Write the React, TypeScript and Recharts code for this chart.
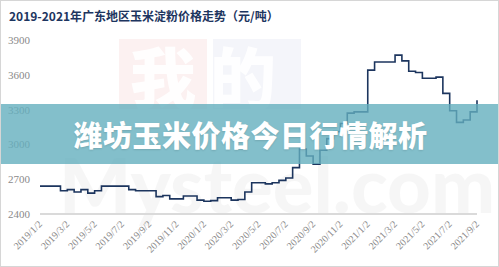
import React from "react";
import { Line, LineChart, XAxis, YAxis } from "recharts";

// 半月采样：每月 2 日、17 日
const dates = [
  "2019/1/2", "2019/1/17", "2019/2/2", "2019/2/17", "2019/3/2", "2019/3/17", "2019/4/2", "2019/4/17",
  "2019/5/2", "2019/5/17", "2019/6/2", "2019/6/17", "2019/7/2", "2019/7/17", "2019/8/2", "2019/8/17",
  "2019/9/2", "2019/9/17", "2019/10/2", "2019/10/17", "2019/11/2", "2019/11/17", "2019/12/2", "2019/12/17",
  "2020/1/2", "2020/1/17", "2020/2/2", "2020/2/17", "2020/3/2", "2020/3/17", "2020/4/2", "2020/4/17",
  "2020/5/2", "2020/5/17", "2020/6/2", "2020/6/17", "2020/7/2", "2020/7/17", "2020/8/2", "2020/8/17",
  "2020/9/2", "2020/9/17", "2020/10/2", "2020/10/17", "2020/11/2", "2020/11/17", "2020/12/2", "2020/12/17",
  "2021/1/2", "2021/1/17", "2021/2/2", "2021/2/17", "2021/3/2", "2021/3/17", "2021/4/2", "2021/4/17",
  "2021/5/2", "2021/5/17", "2021/6/2", "2021/6/17", "2021/7/2", "2021/7/17", "2021/8/2", "2021/8/17",
  "2021/9/2",
];

// 玉米淀粉价格（元/吨）
const prices = [
  2640, 2640, 2640, 2600, 2610, 2590, 2610, 2580,
  2600, 2640, 2640, 2640, 2640, 2610, 2600, 2600,
  2600, 2550, 2560, 2530, 2530, 2555, 2555, 2520,
  2510, 2515, 2540, 2540, 2520, 2525, 2590, 2670,
  2670, 2660, 2670, 2690, 2710, 2800, 2960, 2900,
  2830, 2950, 3050, 3110, 3180, 3270, 3280, 3280,
  3640, 3710, 3710, 3710, 3770, 3720, 3630, 3620,
  3570, 3570, 3580, 3440, 3290, 3190, 3210, 3280,
  3380,
];

const yTicks = [2400, 2700, 3000, 3300, 3600, 3900];

const data = dates.map((d, i) => ({ date: d, price: prices[i] }));

const DateTick = (props: any) => {
  const { x, y, payload } = props;
  return (
    <g transform={`translate(${x},${y})`}>
      <text
        x={0}
        y={0}
        dy={4}
        textAnchor="end"
        transform="rotate(-45)"
        fill="#8a8a8a"
        fontSize={10}
        fontFamily="'Liberation Serif', serif"
      >
        {payload.value}
      </text>
    </g>
  );
};

export default function App() {
  return (
    <div
      style={{
        position: "absolute",
        left: 0,
        top: 0,
        width: 499,
        height: 267,
        background: "#fff",
        boxSizing: "border-box",
        border: "1px solid #d6d6d6",
        overflow: "hidden",
      }}
    >
      {/* 水印 */}
      <div style={{ position: "absolute", left: 118, top: 38, width: 88, height: 70, background: "rgba(215,60,60,0.07)" }} />
      <div style={{ position: "absolute", left: 212, top: 38, width: 88, height: 70, background: "rgba(60,90,165,0.06)" }} />
      <div
        style={{
          position: "absolute",
          left: 118,
          top: 34,
          width: 182,
          textAlign: "center",
          fontFamily: "'Noto Sans CJK SC', sans-serif",
          fontWeight: 900,
          fontSize: 66,
          lineHeight: "78px",
          letterSpacing: 14,
          color: "rgba(255,255,255,0.9)",
        }}
      >
        我的
      </div>
      <div
        style={{
          position: "absolute",
          left: 58,
          top: 138,
          fontFamily: "Lato, 'Open Sans', sans-serif",
          fontWeight: 900,
          fontSize: 76,
          lineHeight: "90px",
          color: "rgba(0,0,0,0.035)",
          whiteSpace: "nowrap",
        }}
      >
        Mysteel.com
      </div>

      <div
        style={{
          position: "absolute",
          left: 8,
          top: 6,
          fontFamily: "'Noto Sans CJK SC', sans-serif",
          fontWeight: 700,
          fontSize: 12,
          lineHeight: "18px",
          color: "#1d3560",
          whiteSpace: "nowrap",
        }}
      >
        2019-2021年广东地区玉米淀粉价格走势（元/吨）
      </div>

      <div style={{ position: "absolute", left: -1, top: -1 }}>
        <LineChart width={499} height={267} data={data} margin={{ top: 40, right: 22, bottom: 0, left: 0 }}>
          <XAxis
            dataKey="date"
            interval={3}
            height={53}
            tickLine={false}
            tickSize={6}
            tickMargin={2}
            axisLine={{ stroke: "#dadada", strokeWidth: 2 }}
            tick={<DateTick />}
          />
          <YAxis
            width={40}
            domain={[2400, 3900]}
            ticks={yTicks}
            axisLine={false}
            tickLine={false}
            tickSize={6}
            tickMargin={4}
            tick={{ fill: "#8a8a8a", fontSize: 11, fontFamily: "'Liberation Serif', serif" }}
          />
          <Line
            type="stepAfter"
            dataKey="price"
            stroke="#1c355e"
            strokeWidth={1.6}
            dot={false}
            isAnimationActive={false}
          />
        </LineChart>
      </div>

      <div
        style={{
          position: "absolute",
          left: 0,
          top: 103,
          width: 499,
          height: 60,
          background: "rgba(100,175,190,0.8)",
          display: "flex",
          alignItems: "center",
          justifyContent: "center",
          fontFamily: "'Noto Sans CJK SC', sans-serif",
          fontWeight: 900,
          fontSize: 29,
          color: "#fff",
          letterSpacing: 0.5,
          textShadow: "0 1px 2px rgba(0,0,0,0.12)",
        }}
      >
        潍坊玉米价格今日行情解析
      </div>
    </div>
  );
}
